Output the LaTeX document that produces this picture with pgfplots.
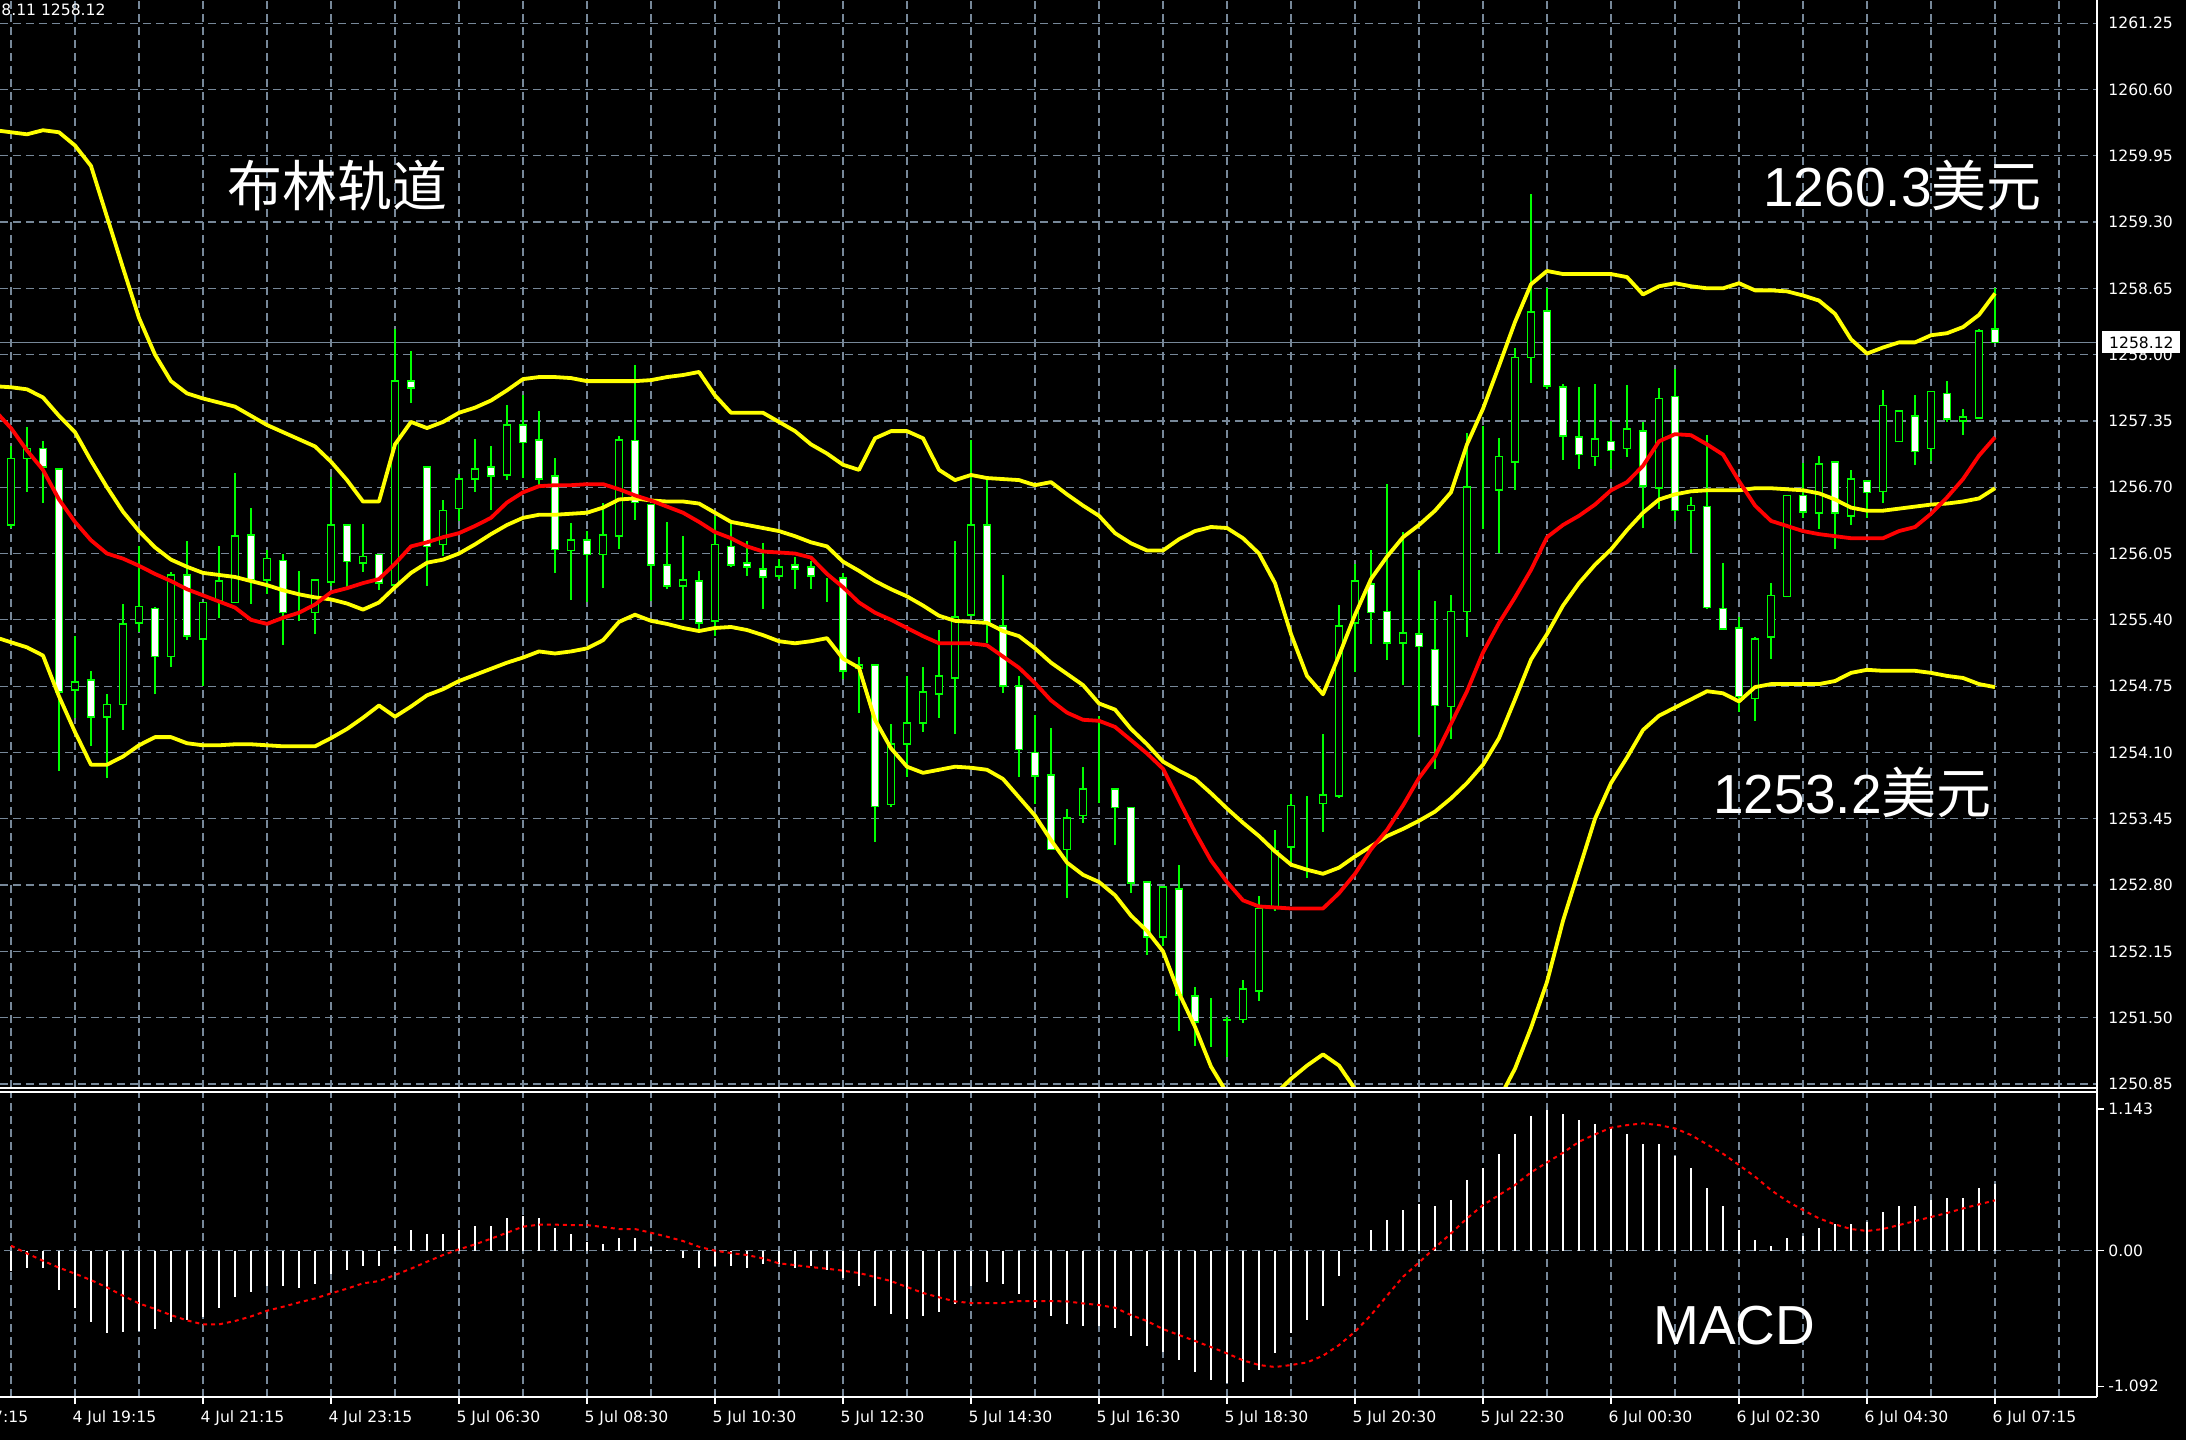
\documentclass[border=0pt]{standalone}
\usepackage{fontspec}
\setmainfont{Liberation Sans}
\newfontfamily\tickfont{DejaVu Sans}
\newfontfamily\cjk{Noto Sans CJK SC}
\usepackage{pgfplots}
\usepackage{pgfplotstable}
\pgfplotsset{compat=1.18}

\definecolor{candle}{RGB}{0,255,0}
\definecolor{band}{RGB}{255,255,0}
\definecolor{ma}{RGB}{255,0,0}
\definecolor{gridc}{RGB}{119,136,153}

% 15-minute candles: bar index, open, high, low, close
\pgfplotstableread{
k o h l c
0 1256.33 1257.11 1256.31 1256.98
1 1256.98 1257.30 1256.66 1257.08
2 1257.08 1257.17 1256.56 1256.90
3 1256.88 1256.89 1253.93 1254.69
4 1254.71 1255.25 1254.45 1254.79
5 1254.81 1254.91 1254.17 1254.45
6 1254.45 1254.67 1253.85 1254.57
7 1254.57 1255.57 1254.33 1255.36
8 1255.37 1256.14 1255.30 1255.53
9 1255.51 1255.53 1254.67 1255.04
10 1255.04 1255.87 1254.94 1255.84
11 1255.84 1256.18 1255.21 1255.24
12 1255.21 1255.58 1254.76 1255.57
13 1255.59 1256.13 1255.43 1255.78
14 1255.57 1256.83 1255.56 1256.22
15 1256.23 1256.50 1255.56 1255.79
16 1255.79 1256.09 1255.66 1256.00
17 1255.98 1256.05 1255.16 1255.47
18 1255.75 1255.89 1255.40 1255.75
19 1255.47 1255.79 1255.27 1255.79
20 1255.77 1256.82 1255.75 1256.33
21 1256.33 1256.34 1255.73 1255.97
22 1255.96 1256.34 1255.87 1256.02
23 1256.04 1256.05 1255.70 1255.76
24 1255.74 1258.26 1255.74 1257.74
25 1257.74 1258.05 1257.54 1257.67
26 1256.90 1256.91 1255.73 1256.12
27 1256.14 1256.59 1256.04 1256.47
28 1256.49 1256.85 1256.39 1256.78
29 1256.78 1257.18 1256.66 1256.88
30 1256.90 1257.11 1256.49 1256.81
31 1256.82 1257.51 1256.78 1257.31
32 1257.31 1257.62 1256.81 1257.14
33 1257.16 1257.46 1256.72 1256.78
34 1256.81 1256.99 1255.86 1256.09
35 1256.08 1256.36 1255.60 1256.18
36 1256.18 1256.28 1255.58 1256.04
37 1256.04 1256.55 1255.72 1256.23
38 1256.22 1257.22 1256.11 1257.16
39 1257.16 1257.91 1256.39 1256.55
40 1256.53 1256.54 1255.58 1255.94
41 1255.94 1256.36 1255.71 1255.73
42 1255.73 1256.24 1255.41 1255.79
43 1255.78 1255.89 1255.29 1255.37
44 1255.39 1256.42 1255.24 1256.14
45 1256.12 1256.36 1255.93 1255.94
46 1255.96 1256.18 1255.83 1255.92
47 1255.90 1256.15 1255.51 1255.82
48 1255.83 1256.02 1255.82 1255.92
49 1255.94 1256.02 1255.71 1255.90
50 1255.92 1255.99 1255.71 1255.83
51 1255.82 1255.82 1255.58 1255.82
52 1255.81 1255.87 1254.83 1254.90
53 1254.93 1255.04 1254.49 1254.96
54 1254.96 1254.96 1253.23 1253.57
55 1253.59 1254.38 1253.57 1254.18
56 1254.18 1254.85 1253.86 1254.39
57 1254.39 1254.95 1254.31 1254.69
58 1254.67 1255.30 1254.44 1254.85
59 1254.83 1256.18 1254.29 1255.43
60 1255.45 1257.17 1255.44 1256.33
61 1256.33 1256.77 1255.17 1255.37
62 1255.34 1255.85 1254.70 1254.75
63 1254.75 1254.85 1253.86 1254.13
64 1254.10 1254.47 1253.60 1253.87
65 1253.88 1254.35 1253.15 1253.15
66 1253.15 1253.56 1252.68 1253.46
67 1253.48 1253.96 1253.41 1253.74
68 1253.74 1254.46 1253.61 1253.74
69 1253.74 1253.74 1253.20 1253.56
70 1253.56 1253.56 1252.73 1252.82
71 1252.83 1252.84 1252.13 1252.29
72 1252.29 1252.79 1252.21 1252.78
73 1252.76 1253.01 1251.38 1251.72
74 1251.71 1251.81 1251.23 1251.46
75 1251.46 1251.70 1251.22 1251.46
76 1251.48 1251.51 1251.12 1251.47
77 1251.48 1251.88 1251.46 1251.78
78 1251.76 1252.70 1251.67 1252.57
79 1252.58 1253.35 1252.56 1253.14
80 1253.17 1253.70 1253.04 1253.58
81 1253.58 1253.67 1252.87 1253.58
82 1253.60 1254.29 1253.32 1253.68
83 1253.67 1255.55 1253.66 1255.34
84 1255.37 1255.96 1254.90 1255.78
85 1255.75 1256.09 1255.17 1255.47
86 1255.48 1256.74 1255.02 1255.17
87 1255.17 1256.27 1254.77 1255.27
88 1255.26 1255.90 1254.28 1255.14
89 1255.11 1255.60 1253.95 1254.56
90 1254.55 1255.65 1254.24 1255.48
91 1255.48 1257.24 1255.24 1256.70
92 1256.68 1257.32 1256.31 1256.68
93 1256.67 1257.19 1256.07 1257.00
94 1256.95 1258.07 1256.68 1257.97
95 1257.97 1259.58 1257.73 1258.42
96 1258.43 1258.67 1257.68 1257.69
97 1257.68 1257.71 1256.97 1257.20
98 1257.19 1257.68 1256.88 1257.02
99 1257.00 1257.71 1256.91 1257.17
100 1257.15 1257.36 1256.89 1257.06
101 1257.08 1257.71 1257.00 1257.27
102 1257.25 1257.35 1256.32 1256.71
103 1256.69 1257.68 1256.50 1257.57
104 1257.59 1257.87 1256.38 1256.47
105 1256.47 1256.62 1256.07 1256.52
106 1256.51 1257.22 1255.51 1255.52
107 1255.51 1255.96 1255.31 1255.31
108 1255.32 1255.43 1254.50 1254.65
109 1254.63 1255.25 1254.42 1255.21
110 1255.23 1255.76 1255.02 1255.64
111 1255.63 1256.62 1255.62 1256.62
112 1256.62 1256.94 1256.40 1256.46
113 1256.45 1257.02 1256.30 1256.93
114 1256.95 1256.95 1256.10 1256.45
115 1256.42 1256.88 1256.34 1256.78
116 1256.76 1256.76 1256.40 1256.65
117 1256.66 1257.65 1256.55 1257.50
118 1257.15 1257.45 1257.15 1257.45
119 1257.40 1257.62 1256.93 1257.05
120 1257.08 1257.64 1256.95 1257.64
121 1257.62 1257.75 1257.35 1257.37
122 1257.35 1257.47 1257.21 1257.39
123 1257.38 1258.26 1257.38 1258.23
124 1258.25 1258.66 1258.12 1258.12
}\candles

% Bollinger bands (upper, middle, lower) and the moving average
\pgfplotstableread{
k up mid ma lo
-1 1260.20 1257.69 1257.45 1255.23
0 1260.18 1257.68 1257.28 1255.18
1 1260.16 1257.66 1257.06 1255.13
2 1260.20 1257.58 1256.87 1255.05
3 1260.18 1257.40 1256.58 1254.65
4 1260.05 1257.24 1256.36 1254.30
5 1259.85 1256.96 1256.18 1253.98
6 1259.35 1256.70 1256.05 1253.98
7 1258.85 1256.46 1256.00 1254.06
8 1258.36 1256.27 1255.93 1254.17
9 1258.00 1256.11 1255.85 1254.25
10 1257.74 1255.99 1255.78 1254.25
11 1257.62 1255.92 1255.70 1254.19
12 1257.57 1255.86 1255.64 1254.17
13 1257.53 1255.84 1255.58 1254.17
14 1257.49 1255.82 1255.52 1254.18
15 1257.40 1255.78 1255.40 1254.18
16 1257.31 1255.74 1255.36 1254.17
17 1257.24 1255.69 1255.42 1254.16
18 1257.17 1255.65 1255.47 1254.16
19 1257.10 1255.62 1255.55 1254.16
20 1256.95 1255.60 1255.67 1254.24
21 1256.77 1255.56 1255.71 1254.33
22 1256.56 1255.50 1255.76 1254.44
23 1256.56 1255.57 1255.80 1254.56
24 1257.12 1255.72 1255.95 1254.45
25 1257.34 1255.86 1256.12 1254.55
26 1257.28 1255.96 1256.16 1254.66
27 1257.34 1255.99 1256.21 1254.72
28 1257.43 1256.05 1256.25 1254.80
29 1257.48 1256.14 1256.32 1254.86
30 1257.55 1256.24 1256.40 1254.92
31 1257.65 1256.33 1256.55 1254.98
32 1257.76 1256.40 1256.65 1255.03
33 1257.78 1256.43 1256.71 1255.09
34 1257.78 1256.43 1256.72 1255.07
35 1257.77 1256.44 1256.72 1255.09
36 1257.74 1256.45 1256.73 1255.12
37 1257.74 1256.50 1256.73 1255.20
38 1257.74 1256.58 1256.68 1255.38
39 1257.74 1256.59 1256.62 1255.45
40 1257.75 1256.57 1256.57 1255.39
41 1257.78 1256.56 1256.51 1255.36
42 1257.80 1256.56 1256.45 1255.32
43 1257.83 1256.54 1256.36 1255.29
44 1257.60 1256.45 1256.26 1255.32
45 1257.43 1256.36 1256.20 1255.33
46 1257.43 1256.33 1256.12 1255.30
47 1257.43 1256.30 1256.07 1255.25
48 1257.34 1256.27 1256.06 1255.19
49 1257.25 1256.22 1256.05 1255.17
50 1257.12 1256.16 1256.01 1255.19
51 1257.03 1256.12 1255.85 1255.22
52 1256.92 1255.97 1255.72 1255.02
53 1256.87 1255.88 1255.57 1254.93
54 1257.18 1255.78 1255.47 1254.42
55 1257.25 1255.70 1255.40 1254.14
56 1257.25 1255.63 1255.32 1253.96
57 1257.18 1255.54 1255.24 1253.90
58 1256.87 1255.44 1255.17 1253.93
59 1256.77 1255.39 1255.17 1253.96
60 1256.82 1255.38 1255.17 1253.95
61 1256.79 1255.37 1255.15 1253.93
62 1256.78 1255.29 1255.04 1253.84
63 1256.77 1255.24 1254.93 1253.66
64 1256.72 1255.12 1254.78 1253.48
65 1256.75 1254.98 1254.61 1253.24
66 1256.63 1254.87 1254.49 1253.02
67 1256.52 1254.76 1254.42 1252.90
68 1256.42 1254.58 1254.41 1252.83
69 1256.25 1254.52 1254.35 1252.70
70 1256.15 1254.33 1254.22 1252.50
71 1256.08 1254.18 1254.09 1252.35
72 1256.08 1254.01 1253.94 1252.15
73 1256.19 1253.92 1253.63 1251.74
74 1256.27 1253.84 1253.32 1251.41
75 1256.31 1253.70 1253.04 1251.02
76 1256.30 1253.55 1252.83 1250.76
77 1256.20 1253.41 1252.65 1250.62
78 1256.05 1253.28 1252.59 1250.60
79 1255.76 1253.13 1252.58 1250.75
80 1255.26 1253.00 1252.57 1250.90
81 1254.85 1252.95 1252.57 1251.03
82 1254.67 1252.91 1252.57 1251.14
83 1255.05 1252.97 1252.72 1251.03
84 1255.45 1253.08 1252.91 1250.80
85 1255.80 1253.18 1253.15 1250.60
86 1256.02 1253.28 1253.34 1250.54
87 1256.21 1253.35 1253.58 1250.49
88 1256.33 1253.43 1253.85 1250.53
89 1256.47 1253.52 1254.06 1250.57
90 1256.65 1253.65 1254.38 1250.62
91 1257.12 1253.80 1254.70 1250.50
92 1257.47 1253.98 1255.08 1250.55
93 1257.89 1254.24 1255.37 1250.70
94 1258.32 1254.62 1255.62 1251.00
95 1258.69 1255.01 1255.89 1251.40
96 1258.82 1255.26 1256.21 1251.85
97 1258.79 1255.54 1256.33 1252.45
98 1258.79 1255.76 1256.42 1252.95
99 1258.79 1255.94 1256.53 1253.45
100 1258.79 1256.09 1256.67 1253.80
101 1258.76 1256.28 1256.75 1254.05
102 1258.59 1256.45 1256.91 1254.32
103 1258.67 1256.58 1257.15 1254.46
104 1258.70 1256.63 1257.22 1254.54
105 1258.67 1256.66 1257.21 1254.62
106 1258.65 1256.67 1257.12 1254.70
107 1258.65 1256.67 1257.02 1254.68
108 1258.70 1256.67 1256.76 1254.60
109 1258.63 1256.69 1256.52 1254.74
110 1258.63 1256.69 1256.37 1254.77
111 1258.62 1256.68 1256.32 1254.77
112 1258.58 1256.67 1256.27 1254.77
113 1258.53 1256.64 1256.24 1254.77
114 1258.40 1256.58 1256.22 1254.80
115 1258.15 1256.50 1256.20 1254.88
116 1258.01 1256.47 1256.20 1254.91
117 1258.07 1256.47 1256.20 1254.90
118 1258.12 1256.49 1256.27 1254.90
119 1258.12 1256.51 1256.31 1254.90
120 1258.19 1256.53 1256.44 1254.88
121 1258.21 1256.54 1256.60 1254.85
122 1258.27 1256.56 1256.78 1254.83
123 1258.39 1256.59 1257.01 1254.77
124 1258.60 1256.69 1257.19 1254.74
}\bands

% MACD histogram and signal line
\pgfplotstableread{
k hist sig
0 -0.160 0.040
1 -0.137 -0.022
2 -0.137 -0.081
3 -0.315 -0.137
4 -0.460 -0.185
5 -0.573 -0.237
6 -0.667 -0.296
7 -0.653 -0.363
8 -0.648 -0.425
9 -0.634 -0.470
10 -0.573 -0.519
11 -0.559 -0.562
12 -0.532 -0.594
13 -0.460 -0.594
14 -0.376 -0.567
15 -0.331 -0.530
16 -0.285 -0.484
17 -0.282 -0.452
18 -0.298 -0.417
19 -0.269 -0.385
20 -0.185 -0.344
21 -0.156 -0.306
22 -0.121 -0.263
23 -0.121 -0.245
24 0.040 -0.196
25 0.167 -0.145
26 0.134 -0.089
27 0.134 -0.035
28 0.167 0.011
29 0.199 0.051
30 0.199 0.097
31 0.263 0.145
32 0.280 0.194
33 0.263 0.210
34 0.183 0.210
35 0.134 0.207
36 0.070 0.207
37 0.054 0.191
38 0.102 0.175
39 0.102 0.175
40 0.030 0.145
41 0.005 0.113
42 -0.056 0.078
43 -0.137 0.032
44 -0.121 0.000
45 -0.121 -0.019
46 -0.137 -0.035
47 -0.105 -0.062
48 -0.105 -0.102
49 -0.137 -0.116
50 -0.121 -0.132
51 -0.153 -0.145
52 -0.218 -0.161
53 -0.282 -0.180
54 -0.444 -0.212
55 -0.508 -0.245
56 -0.554 -0.293
57 -0.524 -0.341
58 -0.492 -0.376
59 -0.427 -0.409
60 -0.282 -0.422
61 -0.250 -0.422
62 -0.266 -0.422
63 -0.347 -0.406
64 -0.460 -0.406
65 -0.524 -0.406
66 -0.589 -0.409
67 -0.605 -0.425
68 -0.605 -0.438
69 -0.621 -0.460
70 -0.685 -0.519
71 -0.766 -0.567
72 -0.815 -0.632
73 -0.882 -0.680
74 -0.976 -0.728
75 -1.040 -0.777
76 -1.070 -0.828
77 -1.056 -0.884
78 -0.962 -0.922
79 -0.828 -0.938
80 -0.667 -0.922
81 -0.559 -0.901
82 -0.444 -0.847
83 -0.202 -0.761
84 0.005 -0.653
85 0.167 -0.519
86 0.247 -0.363
87 0.328 -0.210
88 0.376 -0.095
89 0.360 0.024
90 0.409 0.140
91 0.570 0.261
92 0.664 0.368
93 0.777 0.449
94 0.938 0.530
95 1.086 0.632
96 1.134 0.712
97 1.102 0.790
98 1.054 0.879
99 1.022 0.938
100 0.987 0.992
101 0.938 1.013
102 0.860 1.027
103 0.860 1.013
104 0.763 0.987
105 0.667 0.933
106 0.505 0.858
107 0.360 0.782
108 0.167 0.691
109 0.086 0.597
110 0.038 0.489
111 0.102 0.401
112 0.118 0.328
113 0.183 0.261
114 0.215 0.212
115 0.215 0.175
116 0.231 0.159
117 0.312 0.175
118 0.360 0.207
119 0.360 0.239
120 0.409 0.272
121 0.425 0.304
122 0.425 0.341
123 0.505 0.374
124 0.538 0.406
}\macd

\pgfplotsset{
  pricepanel/.style={
    at={(0pt,0pt)}, anchor=north west, scale only axis,
    width=1048.5pt, height=544pt,
    xmin=-0.6875, xmax=130.375, ymin=0.81, ymax=11.4767, clip=true},
  gridline/.style={gridc, line width=0.6pt, dash pattern=on 4pt off 2.5pt},
  ticktext/.style={font=\tickfont\fontsize{7.8}{9}\selectfont, text=white},
}

\begin{document}
\begin{tikzpicture}[x=1pt,y=1pt]
\useasboundingbox (0,0) rectangle (1093,-720);
\fill[black] (0,0) rectangle (1093,-720);
\clip (0,0) rectangle (1093,-720);

% price panel: grid, labels, bid line and wicks (prices offset by 1250)
\begin{axis}[pricepanel,
  axis background/.style={fill=black},
  axis line style={draw=none},
  xtick={0,4,...,128}, xticklabels={},
  ytick={0.85,1.50,2.15,2.80,3.45,4.10,4.75,5.40,6.05,6.70,7.35,8.00,8.65,9.30,9.95,10.60,11.25},
  yticklabels={1250.85,1251.50,1252.15,1252.80,1253.45,1254.10,1254.75,1255.40,1256.05,1256.70,1257.35,1258.00,1258.65,1259.30,1259.95,1260.60,1261.25},
  yticklabel pos=right,
  major tick length=0pt,
  grid=major, major grid style={gridline},
  tick label style={ticktext},
  yticklabel style={anchor=west, inner sep=0pt, xshift=5.5pt},
]
\addplot[gridc, line width=0.6pt] coordinates {(-1,8.12) (131,8.12)};
\addplot[draw=none, mark=none,
  error bars/.cd, y dir=both, y explicit, error mark=none,
  error bar style={draw=candle, line width=0.7pt, solid}]
  table[x=k, y expr={(\thisrow{h}+\thisrow{l})/2-1250},
        y error expr={(\thisrow{h}-\thisrow{l})/2}] {\candles};
\end{axis}

% candle bodies stacked on an invisible base
\begin{axis}[pricepanel, hide axis, ybar stacked, bar width=0.43]
\addplot[draw=none, fill=none] table[x=k, y expr={min(\thisrow{o},\thisrow{c})-1250}] {\candles};
\addplot[draw=candle, fill=black, line width=0.8pt] table[x=k, y expr={max(\thisrow{c}-\thisrow{o},0)}] {\candles};
\addplot[draw=candle, fill=white, line width=0.8pt] table[x=k, y expr={max(\thisrow{o}-\thisrow{c},0)}] {\candles};
\end{axis}

% indicator lines
\begin{axis}[pricepanel, hide axis]
\addplot[band, line width=1.9pt, line join=round] table[x=k, y expr={\thisrow{up}-1250}] {\bands};
\addplot[band, line width=1.9pt, line join=round] table[x=k, y expr={\thisrow{mid}-1250}] {\bands};
\addplot[band, line width=1.9pt, line join=round] table[x=k, y expr={\thisrow{lo}-1250}] {\bands};
\addplot[ma, line width=1.9pt, line join=round] table[x=k, y expr={\thisrow{ma}-1250}] {\bands};
\end{axis}

% MACD panel
\begin{axis}[at={(1048.5pt,-546pt)}, anchor=north east, scale only axis,
  width=1079pt, height=152.5pt,
  xmin=-4.5, xmax=130.375, ymin=-1.18, ymax=1.28, clip=true,
  axis background/.style={fill=black},
  axis line style={draw=none},
  xtick={-4,4,...,124},
  xticklabels={4 Jul 17:15,4 Jul 19:15,4 Jul 21:15,4 Jul 23:15,5 Jul 06:30,5 Jul 08:30,5 Jul 10:30,5 Jul 12:30,5 Jul 14:30,5 Jul 16:30,5 Jul 18:30,5 Jul 20:30,5 Jul 22:30,6 Jul 00:30,6 Jul 02:30,6 Jul 04:30,6 Jul 07:15},
  minor xtick={0,8,...,128},
  xmajorgrids, xminorgrids,
  major grid style={gridline}, minor grid style={gridline},
  ytick={-1.092,1.143}, yticklabels={-1.092,1.143},
  extra y ticks={0}, extra y tick labels={0.00},
  extra y tick style={grid=major},
  tick align=outside, major tick length=3.5pt, minor tick length=0pt,
  xtick pos=bottom, ytick pos=right, yticklabel pos=right,
  tick style={white, line width=0.6pt},
  tick label style={ticktext},
  xticklabel style={anchor=north west, inner sep=0pt, xshift=-1.4pt, yshift=-3.2pt},
  yticklabel style={anchor=west, inner sep=0pt, xshift=2pt},
]
\addplot[ycomb, white, line width=0.65pt, mark=none] table[x=k, y=hist] {\macd};
\addplot[ma, line width=1pt, dash pattern=on 2pt off 2pt] table[x=k, y=sig] {\macd};
\end{axis}

% panel borders
\draw[white, line width=0.7pt] (1048.5,0) -- (1048.5,-698.5);
\draw[white, line width=0.7pt] (0,-544) -- (1048.5,-544);
\draw[white, line width=0.7pt] (0,-546) -- (1048.5,-546);
\draw[white, line width=0.7pt] (0,-698.5) -- (1048.5,-698.5);

% bid price tag and header
\node[fill=white, text=black, inner sep=0pt, minimum width=39pt, minimum height=11pt,
  anchor=west, font=\tickfont\fontsize{7.8}{9}\selectfont] at (1051,-171.2) {1258.12};
\node[anchor=north east, text=white, inner sep=0pt,
  font=\tickfont\fontsize{7.8}{9}\selectfont] at (53,-2) {1258.11 1258.12};

% annotations
\node[anchor=base west, text=white, inner sep=0pt, font=\cjk\fontsize{27.5}{30}\selectfont] at (113.5,-103) {布林轨道};
\node[anchor=base west, text=white, inner sep=0pt, font=\fontsize{27.5}{30}\selectfont] at (881.5,-103) {1260.3{\cjk 美元}};
\node[anchor=base west, text=white, inner sep=0pt, font=\fontsize{27.5}{30}\selectfont] at (856.5,-406.5) {1253.2{\cjk 美元}};
\node[anchor=base west, text=white, inner sep=0pt, font=\fontsize{27.5}{30}\selectfont] at (826.5,-672) {MACD};
\end{tikzpicture}
\end{document}
